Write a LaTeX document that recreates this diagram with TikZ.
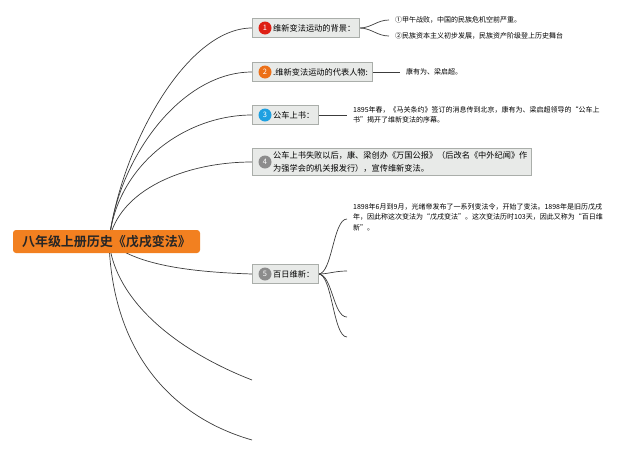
\documentclass[tikz,border=0pt]{standalone}
\usepackage{fontspec}
\setmainfont{Noto Sans CJK SC}[BoldFont={Noto Sans CJK SC Bold}]
\usetikzlibrary{calc}
\usetikzlibrary{backgrounds}

\definecolor{rootorange}{RGB}{242,128,32}
\definecolor{boxfill}{RGB}{232,234,232}
\definecolor{boxline}{RGB}{170,174,170}
\definecolor{dotred}{RGB}{222,32,20}
\definecolor{dotorange}{RGB}{236,112,24}
\definecolor{dotblue}{RGB}{30,160,225}
\definecolor{dotgray}{RGB}{140,140,140}
\definecolor{wire}{RGB}{60,60,60}

\tikzset{
    rootbox/.style={fill=rootorange, rounded corners=3pt, minimum width=187pt, minimum height=23pt,
        inner sep=0pt, text=black!85, font=\fontsize{13}{14}\selectfont\bfseries},
    topic/.style={draw=boxline, fill=boxfill, anchor=west, inner xsep=4pt, inner ysep=3pt,
        minimum height=19pt, align=left, font=\fontsize{8.2}{13}\selectfont},
    numdot/.style={circle, fill=#1, text=white, inner sep=0pt, minimum size=13pt,
        font=\fontsize{7.5}{8}\selectfont},
    leaf/.style={anchor=west, inner xsep=6pt, inner ysep=1pt, align=left,
        font=\fontsize{7}{10.3}\selectfont},
    branch/.style={draw=wire, line width=0.7pt},
}

\begin{document}
\begin{tikzpicture}[x=1pt, y=-1pt]
\useasboundingbox (0,0) rectangle (640,453);

% --- CENTRAL TOPIC ---
\node[rootbox] (root) at (106.5,241.5) {八年级上册历史《戊戌变法》};
\coordinate (hub) at ([xshift=2.5pt]root.center);

% --- MAIN TOPICS ---
\node[topic] (t1) at (252,28) {\hspace*{17pt}维新变法运动的背景：};
\node[topic] (t2) at (252,72) {\hspace*{17pt}.维新变法运动的代表人物:};
\node[topic] (t3) at (252,115) {\hspace*{17pt}公车上书：};
\node[topic] (t4) at (252,162) {\hspace*{17pt}公车上书失败以后，康、梁创办《万国公报》（后改名《中外纪闻》作\\
    \hspace*{17pt}为强学会的机关报发行），宣传维新变法。};
\node[topic] (t5) at (252,274) {\hspace*{17pt}百日维新：};

% numbered dots
\node[numdot=dotred]    (d1) at ([xshift=13pt]t1.west) {1};
\node[numdot=dotorange] (d2) at ([xshift=13pt]t2.west) {2};
\node[numdot=dotblue]   (d3) at ([xshift=13pt]t3.west) {3};
\node[numdot=dotgray]   (d4) at ([xshift=13pt]t4.west) {4};
\node[numdot=dotgray]   (d5) at ([xshift=13pt]t5.west) {5};

% --- DETAILS ---
\node[leaf] (l11) at (389,20) {①甲午战败，中国的民族危机空前严重。};
\node[leaf] (l12) at (389,36) {②民族资本主义初步发展，民族资产阶级登上历史舞台};
\node[leaf] (l2) at (400,72) {康有为、梁启超。};
\node[leaf] (l3) at (347,115) {1895年春，《马关条约》签订的消息传到北京，康有为、梁启超领导的“公车上\\
    书”揭开了维新变法的序幕。};
\node[leaf] (l51) at (347,217) {1898年6月到9月，光绪帝发布了一系列变法令，开始了变法。1898年是旧历戊戌\\
    年，因此称这次变法为“戊戌变法”。这次变法历时103天，因此又称为“百日维\\
    新”。};

% free ends
\coordinate (c52) at (347,271);
\coordinate (c53) at (347,317);
\coordinate (c54) at (347,337);
\coordinate (e6) at (252,380);
\coordinate (e7) at (252,440);

% --- CONNECTORS ---
\begin{scope}[on background layer]
    \draw[branch] (hub) .. controls (120,150) and (185,28) .. (t1.west);
    \draw[branch] (hub) .. controls (117,160) and (180,72) .. (t2.west);
    \draw[branch] (hub) .. controls (116,165) and (185,115) .. (t3.west);
    \draw[branch] (hub) .. controls (118,190) and (185,162) .. (t4.west);
    \draw[branch] (hub) .. controls (135,265) and (190,272) .. (t5.west);
    \draw[branch] (hub) .. controls (115,300) and (175,350) .. (e6);
    \draw[branch] (hub) .. controls (112,345) and (165,415) .. (e7);

    \draw[branch] (t1.east) .. controls +(12,0) and +(-12,0) .. (l11.west);
    \draw[branch] (t1.east) .. controls +(12,0) and +(-12,0) .. (l12.west);
    \draw[branch] (t2.east) -- (l2.west);
    \draw[branch] (t3.east) -- (l3.west);

    \draw[branch] (t5.east) .. controls +(14,0) and +(-14,0) .. ([yshift=-2pt]l51.west);
    \draw[branch] (t5.east) .. controls +(10,0) and +(-12,0) .. (c52);
    \draw[branch] (t5.east) .. controls +(14,0) and +(-14,0) .. (c53);
    \draw[branch] (t5.east) .. controls +(14,0) and +(-14,0) .. (c54);
\end{scope}

\end{tikzpicture}
\end{document}
